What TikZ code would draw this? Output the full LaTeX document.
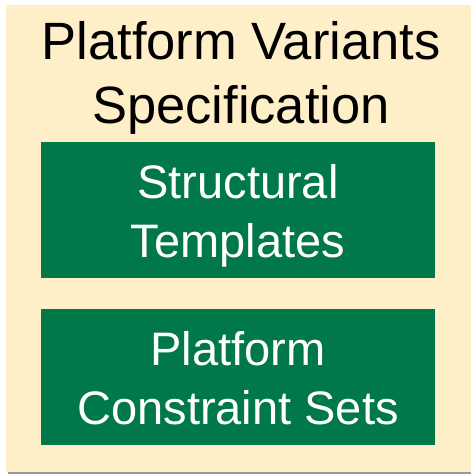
\documentclass[tikz,border=0pt]{standalone}
\usepackage{fontspec}
\setmainfont{Liberation Sans}
\definecolor{panelcream}{HTML}{FFEFC8}
\definecolor{blockgreen}{HTML}{00784A}
\begin{document}
\begin{tikzpicture}[x=1pt,y=1pt,
  panel/.style={fill=panelcream, draw=none},
  heading/.style={inner sep=0pt, align=center, text=black,
    font=\fontsize{52.5}{64}\selectfont},
  block/.style={fill=blockgreen, draw=none, inner sep=0pt,
    minimum width=394pt, minimum height=136pt, align=center, text=white,
    font=\fontsize{47}{59}\selectfont}]
  \useasboundingbox (0,0) rectangle (471,-474);
  % soft shadow and the outer panel
  \fill[black!40] (8,-474) rectangle (473,-7);
  \fill[panel] (6,-5) rectangle (471,-472);
  \coordinate (panelnw) at (6,-5);
  % title
  \node[heading] (title) at (241,-79)
    {\rule[-20pt]{0pt}{64pt}Platform Variants\\\rule[-20pt]{0pt}{64pt}Specification};
  % the two green blocks
  \node[block] (templates) at (238,-209.5)
    {\rule[-11.5pt]{0pt}{59pt}Structural\\\rule[-11.5pt]{0pt}{59pt}Templates};
  \node[block] (constraints) at (238,-377.3)
    {\rule[-11.5pt]{0pt}{59pt}Platform\\\rule[-11.5pt]{0pt}{59pt}Constraint Sets};
\end{tikzpicture}
\end{document}
